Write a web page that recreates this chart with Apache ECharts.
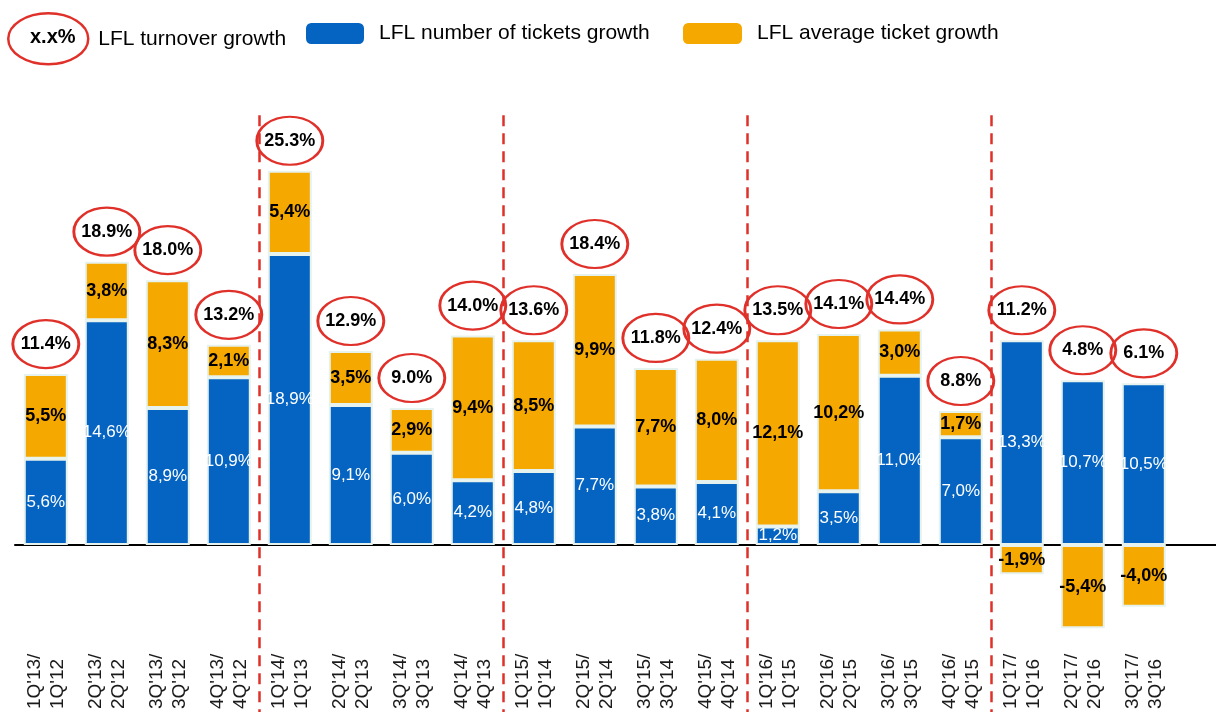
<!DOCTYPE html>
<html>
<head>
<meta charset="utf-8">
<script src="https://cdn.jsdelivr.net/npm/echarts@6/dist/echarts.min.js"></script>
<style>
  html, body { margin: 0; padding: 0; background: #fff; }
  #chart { width: 1216px; height: 712px; }
</style>
</head>
<body>
<div id="chart"></div>
<script>
// quarter labels (LFL = like-for-like vs same quarter a year before)
const categories = [
  "1Q'13/\n1Q'12", "2Q'13/\n2Q'12", "3Q'13/\n3Q'12", "4Q'13/\n4Q'12",
  "1Q'14/\n1Q'13", "2Q'14/\n2Q'13", "3Q'14/\n3Q'13", "4Q'14/\n4Q'13",
  "1Q'15/\n1Q'14", "2Q'15/\n2Q'14", "3Q'15/\n3Q'14", "4Q'15/\n4Q'14",
  "1Q'16/\n1Q'15", "2Q'16/\n2Q'15", "3Q'16/\n3Q'15", "4Q'16/\n4Q'15",
  "1Q'17/\n1Q'16", "2Q'17/\n2Q'16", "3Q'17/\n3Q'16"
]
const ticketsGrowth = [5.6, 14.6, 8.9, 10.9, 18.9, 9.1, 6.0, 4.2, 4.8, 7.7, 3.8, 4.1, 1.2, 3.5, 11.0, 7.0, 13.3, 10.7, 10.5]
const avgTicketGrowth = [5.5, 3.8, 8.3, 2.1, 5.4, 3.5, 2.9, 9.4, 8.5, 9.9, 7.7, 8.0, 12.1, 10.2, 3.0, 1.7, -1.9, -5.4, -4.0]
const turnoverGrowth = [11.4, 18.9, 18.0, 13.2, 25.3, 12.9, 9.0, 14.0, 13.6, 18.4, 11.8, 12.4, 13.5, 14.1, 14.4, 8.8, 11.2, 4.8, 6.1]
// year breaks (red dashed lines) sit between these category slots
const yearBreaks = [4, 8, 12, 16]

const FONT = '"Liberation Sans", Arial, sans-serif'
const BLUE = '#0563c1'
const ORANGE = '#f5a800'
const RED = '#e0302a'
const ELLIPSE = 'path://M0,1C0,0.448 0.448,0 1,0C1.552,0 2,0.448 2,1C2,1.552 1.552,2 1,2C0.448,2 0,1.552 0,1Z'

const Y_MIN = -10.84
const Y_MAX = 30
const SLOTS = 1201 / 61 // full-width grid measured in bar slots

const fmtComma = v => v.toFixed(1).replace('.', ',') + '%'

// circles sit on top of the positive part of each stack
const stackTop = ticketsGrowth.map((v, i) => v + Math.max(avgTicketGrowth[i], 0))

const chart = echarts.init(document.getElementById('chart'))

chart.setOption({
  animation: false,
  textStyle: { fontFamily: FONT },
  grid: [
    { left: 15.3, width: 1159, top: 83, bottom: 0 },
    { left: 15, right: 0, top: 83, bottom: 0 }
  ],
  legend: [
    {
      data: ['LFL turnover growth'],
      left: 7, top: 12, padding: 0,
      itemWidth: 80, itemHeight: 51,
      symbolKeepAspect: false,
      itemStyle: { color: 'rgba(0,0,0,0)', borderColor: RED, borderWidth: 2.5, opacity: 1 },
      textStyle: { fontSize: 21, color: '#000', padding: [0, 0, 4, 5] }
    },
    {
      data: ['LFL number of tickets growth'],
      left: 306, top: 23, padding: 0,
      itemWidth: 58, itemHeight: 21,
      itemStyle: { borderWidth: 0 },
      textStyle: { fontSize: 21, color: '#000', padding: [6, 0, 0, 10] }
    },
    {
      data: ['LFL average ticket growth'],
      left: 683, top: 23, padding: 0,
      itemWidth: 59, itemHeight: 21,
      itemStyle: { borderWidth: 0 },
      textStyle: { fontSize: 21, color: '#000', padding: [6, 0, 0, 10] }
    }
  ],
  graphic: [
    {
      type: 'text',
      left: 30, top: 27,
      silent: true,
      style: { text: 'x.x%', font: 'bold 20px ' + FONT, fill: '#000' }
    }
  ],
  xAxis: [
    {
      type: 'category',
      gridIndex: 0,
      data: categories,
      axisLine: { show: false, onZero: false },
      axisTick: { show: false },
      axisLabel: {
        rotate: 90,
        align: 'left',
        verticalAlign: 'middle',
        margin: -3,
        interval: 0,
        fontSize: 19,
        lineHeight: 23,
        color: '#1a1a1a'
      }
    },
    {
      type: 'value',
      gridIndex: 1,
      min: 0,
      max: SLOTS,
      axisLine: { show: true, onZero: true, lineStyle: { color: '#000', width: 2 } },
      axisTick: { show: false },
      axisLabel: { show: false },
      splitLine: { show: false }
    }
  ],
  yAxis: [
    { type: 'value', gridIndex: 0, min: Y_MIN, max: Y_MAX, show: false, splitLine: { show: false } },
    { type: 'value', gridIndex: 1, min: Y_MIN, max: Y_MAX, show: false, splitLine: { show: false } }
  ],
  series: [
    {
      name: 'LFL number of tickets growth',
      type: 'bar',
      stack: 'lfl',
      barWidth: 44,
      data: ticketsGrowth,
      itemStyle: { color: BLUE, borderColor: '#e6f2ee', borderWidth: 2 },
      label: {
        show: true,
        position: 'inside',
        color: '#fff',
        fontSize: 17,
        formatter: p => fmtComma(p.value)
      }
    },
    {
      name: 'LFL average ticket growth',
      type: 'bar',
      stack: 'lfl',
      barWidth: 44,
      data: avgTicketGrowth,
      itemStyle: { color: ORANGE, borderColor: '#e6f2ee', borderWidth: 2 },
      label: {
        show: true,
        position: 'inside',
        color: '#000',
        fontWeight: 'bold',
        fontSize: 18,
        formatter: p => fmtComma(p.value)
      }
    },
    {
      name: 'LFL turnover growth',
      type: 'scatter',
      data: stackTop,
      symbol: ELLIPSE,
      symbolSize: [66, 48],
      symbolOffset: [0, -30],
      z: 5,
      silent: true,
      itemStyle: { color: 'rgba(0,0,0,0)', borderColor: RED, borderWidth: 2.5, opacity: 1 },
      label: {
        show: true,
        position: 'inside',
        color: '#000',
        fontWeight: 'bold',
        fontSize: 18,
        formatter: p => turnoverGrowth[p.dataIndex].toFixed(1) + '%'
      }
    },
    {
      // carrier for the year-break dashed lines, full-width grid
      name: 'breaks',
      type: 'line',
      xAxisIndex: 1,
      yAxisIndex: 1,
      data: [],
      silent: true,
      markLine: {
        silent: true,
        symbol: 'none',
        label: { show: false },
        lineStyle: { color: RED, width: 2.5, type: [11, 7] },
        data: yearBreaks.map(b => [{ coord: [b, 27.9] }, { coord: [b, Y_MIN] }])
      }
    }
  ]
})
</script>
</body>
</html>
